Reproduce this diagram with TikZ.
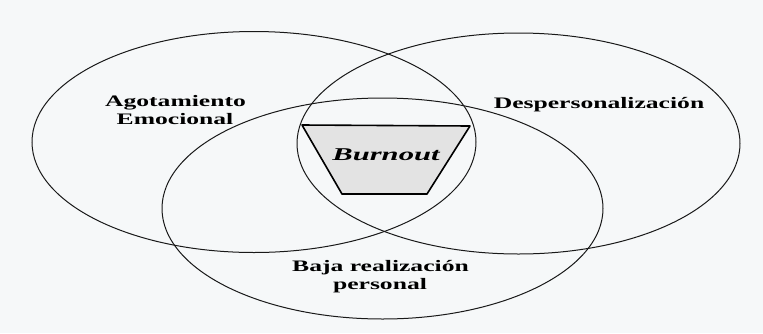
\documentclass[tikz,border=0pt]{standalone}
\usepackage{fontspec}
\setmainfont{Liberation Serif}
\newfontfamily\labelfont[FakeStretch=1.6]{Liberation Serif}
\newfontfamily\burnfont[FakeStretch=1.7]{Liberation Serif}
\usepackage{xcolor}
\definecolor{paper}{RGB}{246,248,249}

\begin{document}
\begin{tikzpicture}[x=1pt,y=-1pt,line cap=round,
  set/.style={draw=black!90,line width=1pt},
  lab/.style={anchor=base,inner sep=0pt,font=\labelfont\bfseries\fontsize{16}{18}\selectfont}]
\fill[paper] (0,0) rectangle (763,333);
\useasboundingbox (0,0) rectangle (763,333);
% the three sets
\draw[set] (254,142) ellipse (222 and 110.5);
\draw[set] (518.5,143.5) ellipse (221.5 and 110.5);
\draw[set] (382.5,208.5) ellipse (220.5 and 110.5);
% burnout core
\coordinate (tl) at (302,125);
\coordinate (tr) at (470,126);
\coordinate (br) at (427,194);
\coordinate (bl) at (342,194);
\draw[fill=gray!22,line width=1.6pt,line join=round] (tl) -- (tr) -- (br) -- (bl) -- cycle;
\node[anchor=base,inner sep=0pt,font=\burnfont\bfseries\itshape\fontsize{18}{20}\selectfont] (burn) at (386,160) {Burnout};
% labels
\node[lab] (agot) at (175.5,106) {Agotamiento};
\node[lab] (emoc) at (175,124) {Emocional};
\node[lab] (desp) at (599,108) {Despersonalización};
\node[lab] (baja) at (380.5,271) {Baja realización};
\node[lab] (pers) at (380,289) {personal};
\end{tikzpicture}
\end{document}
